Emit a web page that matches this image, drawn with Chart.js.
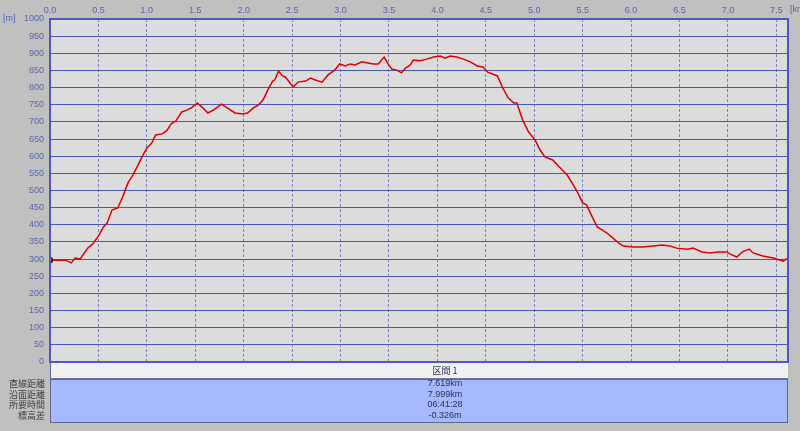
<!DOCTYPE html>
<html>
<head>
<meta charset="utf-8">
<script src="https://cdn.jsdelivr.net/npm/chart.js@4.4.6/dist/chart.umd.min.js"></script>
<style>
  html, body { margin: 0; padding: 0; background: #c0c0c0; }
  #wrap { width: 800px; height: 431px; position: relative; }
</style>
</head>
<body>
<div id="wrap"><canvas id="profile" width="800" height="431"></canvas></div>
<script>
// distance along the track [km] and elevation [m]
const distKm = [0.00, 0.16, 0.22, 0.26, 0.31, 0.39, 0.44, 0.50, 0.55, 0.59, 0.64, 0.70, 0.75, 0.78, 0.81, 0.85, 0.90, 0.95, 1.00, 1.05,
  1.09, 1.16, 1.21, 1.25, 1.30, 1.36, 1.42, 1.47, 1.52, 1.57, 1.63, 1.69, 1.77, 1.83, 1.91, 1.99, 2.04, 2.10, 2.15, 2.20,
  2.26, 2.30, 2.32, 2.36, 2.40, 2.43, 2.51, 2.56, 2.64, 2.69, 2.74, 2.81, 2.87, 2.94, 2.99, 3.05, 3.10, 3.15, 3.22, 3.28,
  3.34, 3.39, 3.45, 3.49, 3.53, 3.58, 3.63, 3.67, 3.72, 3.75, 3.82, 3.89, 3.96, 4.03, 4.08, 4.13, 4.20, 4.27, 4.34, 4.41,
  4.47, 4.52, 4.62, 4.67, 4.73, 4.79, 4.82, 4.88, 4.94, 5.01, 5.06, 5.11, 5.19, 5.24, 5.29, 5.34, 5.39, 5.45, 5.50, 5.54,
  5.58, 5.65, 5.70, 5.75, 5.81, 5.87, 5.92, 6.02, 6.12, 6.23, 6.32, 6.40, 6.47, 6.58, 6.64, 6.73, 6.81, 6.90, 6.99, 7.02,
  7.09, 7.15, 7.22, 7.26, 7.36, 7.47, 7.57, 7.62];
const elevM = [297, 297, 289, 303, 300, 332, 344, 367, 393, 405, 443, 449, 481, 504, 525, 542, 569, 598, 624, 638,
  662, 665, 676, 694, 703, 729, 735, 743, 755, 743, 726, 735, 752, 741, 726, 723, 726, 741, 749, 764,
  799, 819, 822, 848, 834, 831, 802, 816, 819, 828, 822, 816, 837, 851, 869, 863, 869, 866, 875, 872,
  869, 869, 889, 869, 854, 851, 843, 857, 866, 880, 878, 883, 889, 892, 886, 892, 889, 883, 875, 863,
  860, 845, 834, 802, 770, 755, 755, 706, 671, 647, 618, 598, 589, 574, 560, 545, 522, 493, 464, 458,
  434, 394, 385, 376, 362, 347, 338, 335, 335, 338, 341, 338, 332, 329, 332, 321, 318, 321, 321, 315,
  306, 321, 329, 318, 309, 303, 294, 303];

// summary table below the chart
const sectionName = "区間 1";
const rowLabels = ["直線距離", "沿面距離", "所要時間", "標高差"];
const rowValues = ["7.619km", "7.999km", "06:41:28", "-0.326m"];

const numFont = "Liberation Sans";
const jpFont = "Noto Sans CJK JP";
const tickBlue = "#5a64b0";

const backdrop = {
  id: "backdrop",
  beforeDraw(chart) {
    const { ctx, chartArea: a } = chart;
    ctx.save();
    ctx.fillStyle = "#dcdcdc";
    ctx.fillRect(a.left, a.top, a.right - a.left, a.bottom - a.top);
    ctx.restore();
  },
  afterDraw(chart) {
    const { ctx, chartArea: a } = chart;
    ctx.save();
    // frame of the plot
    ctx.strokeStyle = "#5058c0";
    ctx.lineWidth = 2;
    ctx.strokeRect(a.left, a.top, a.right - a.left, a.bottom - a.top);

    // unit labels
    ctx.fillStyle = tickBlue;
    ctx.font = "9px " + numFont;
    ctx.textBaseline = "middle";
    ctx.textAlign = "left";
    ctx.fillText("[m]", 3, a.top);
    ctx.fillText("[km]", a.right + 2, 10);

    // header row
    const rowTop = a.bottom + 1;
    ctx.fillStyle = "#f0f0f0";
    ctx.fillRect(a.left, rowTop, a.right - a.left, 15);
    ctx.strokeStyle = "#7078a0";
    ctx.lineWidth = 1;
    ctx.beginPath();
    ctx.moveTo(a.left, rowTop + 15.5);
    ctx.lineTo(a.right, rowTop + 15.5);
    ctx.stroke();

    // value block
    const blockTop = rowTop + 16;
    const blockH = 43;
    ctx.fillStyle = "#a6b8ff";
    ctx.fillRect(a.left, blockTop, a.right - a.left, blockH);
    ctx.strokeStyle = "#606890";
    ctx.strokeRect(a.left + 0.5, blockTop + 0.5, a.right - a.left - 1, blockH);
    ctx.beginPath();
    ctx.moveTo(a.left + 0.5, rowTop);
    ctx.lineTo(a.left + 0.5, blockTop);
    ctx.stroke();

    const mid = (a.left + a.right) / 2 + 26;
    ctx.fillStyle = "#303050";
    ctx.textAlign = "center";
    ctx.font = "9px " + jpFont;
    ctx.fillText(sectionName, mid, rowTop + 8);

    ctx.font = "9px " + numFont;
    rowValues.forEach((v, i) => {
      ctx.fillText(v, mid, blockTop + 5 + i * 10.5);
    });
    ctx.textAlign = "right";
    ctx.font = "9px " + jpFont;
    ctx.fillStyle = "#404040";
    rowLabels.forEach((l, i) => {
      ctx.fillText(l, a.left - 5, blockTop + 5 + i * 10.5);
    });
    ctx.restore();
  }
};

new Chart(document.getElementById("profile"), {
  type: "line",
  data: {
    datasets: [{
      data: distKm.map((x, i) => ({ x: x, y: elevM[i] })),
      borderColor: "#e00000",
      borderWidth: 1.5,
      pointRadius: distKm.map((x, i) => (i === 0 ? 2.5 : 0)),
      pointBackgroundColor: "#602020",
      pointBorderColor: "#602020",
      tension: 0
    }]
  },
  options: {
    responsive: false,
    animation: false,
    devicePixelRatio: 1,
    layout: { padding: { left: 0, right: 12, top: 0, bottom: 69 } },
    plugins: { legend: { display: false }, tooltip: { enabled: false } },
    scales: {
      x: {
        type: "linear",
        position: "top",
        min: 0,
        max: 7.62,
        afterFit: (s) => { s.height = 19; },
        afterBuildTicks: (s) => {
          s.ticks = [];
          for (let v = 0; v <= 7.5 + 1e-9; v += 0.5) s.ticks.push({ value: Math.round(v * 10) / 10 });
        },
        ticks: {
          color: tickBlue,
          font: { family: numFont, size: 9 },
          padding: 3,
          autoSkip: false,
          maxRotation: 0,
          minRotation: 0,
          callback: (v) => Number(v).toFixed(1)
        },
        grid: { color: "#7a84c4", lineWidth: 1, drawTicks: false },
        border: { display: false, dash: [3, 2] }
      },
      y: {
        min: 0,
        max: 1000,
        afterFit: (s) => { s.width = 50; },
        ticks: {
          stepSize: 50,
          autoSkip: false,
          color: tickBlue,
          font: { family: numFont, size: 9 },
          padding: 6,
          callback: (v) => String(v)
        },
        grid: { color: "#4858b8", lineWidth: 1, drawTicks: false },
        border: { display: false }
      }
    }
  },
  plugins: [backdrop]
});
</script>
</body>
</html>
